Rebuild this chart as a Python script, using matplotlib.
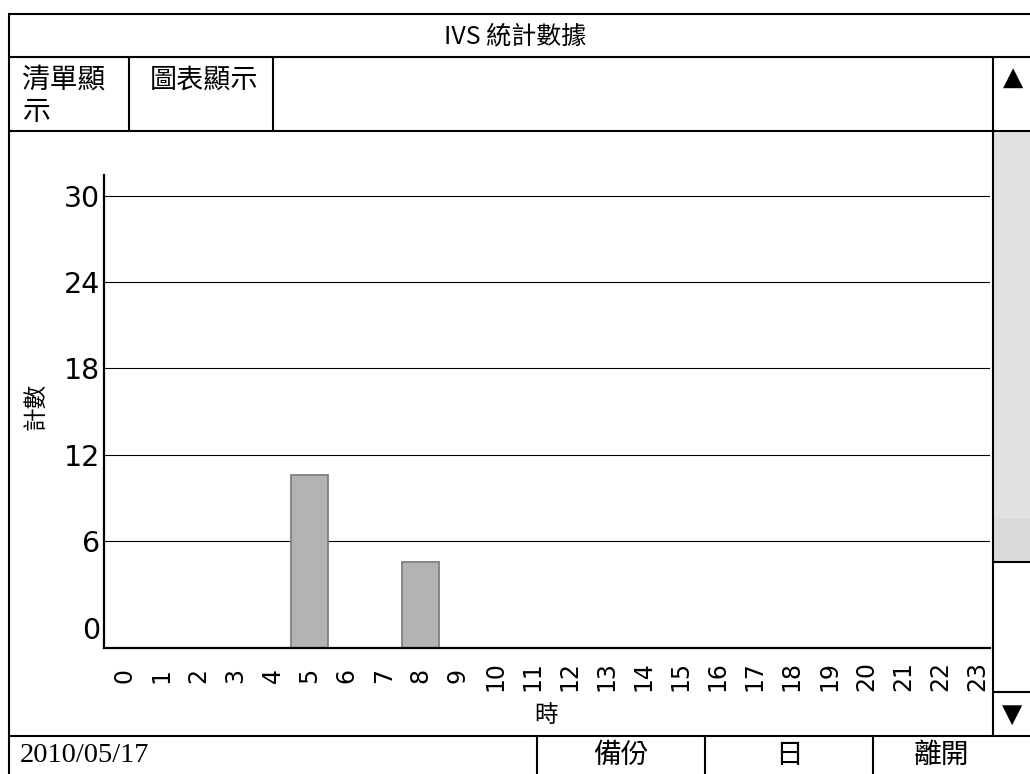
import matplotlib
matplotlib.use("Agg")
import matplotlib.pyplot as plt
from matplotlib.lines import Line2D
from matplotlib.patches import Rectangle

# ---------------- data ----------------
hours = [str(h) for h in range(24)]
counts = [0, 0, 0, 0, 0, 12, 0, 0, 6, 0, 0, 0, 0, 0, 0, 0, 0, 0, 0, 0, 0, 0, 0, 0]
y_ticks = [0, 6, 12, 18, 24, 30]
title_text = "IVS 統計數據"
tab_labels = ["清單顯\n示", "圖表顯示"]
date_text = "2010/05/17"
footer_buttons = ["備份", "日", "離開"]
x_label = "時"
y_label = "計數"

# ---------------- layout ----------------
W, H = 1030, 774
plt.rcParams['font.family'] = ['Noto Sans CJK TC', 'DejaVu Sans']
fig = plt.figure(figsize=(W / 100, H / 100), dpi=100)
fig.patch.set_facecolor('white')


def fx(px):
    return px / W


def fy(py):
    return 1 - py / H


def hline(y, x0, x1, lw=1.5):
    fig.add_artist(Line2D([fx(x0), fx(x1)], [fy(y), fy(y)], color='black', lw=lw,
                          transform=fig.transFigure, solid_capstyle='butt'))


def vline(x, y0, y1, lw=1.5):
    fig.add_artist(Line2D([fx(x), fx(x)], [fy(y0), fy(y1)], color='black', lw=lw,
                          transform=fig.transFigure, solid_capstyle='butt'))


def rect(x0, y0, x1, y1, color):
    fig.add_artist(Rectangle((fx(x0), fy(y1)), fx(x1) - fx(x0), fy(y0) - fy(y1),
                             transform=fig.transFigure, facecolor=color, edgecolor='none'))


# scroll bar thumb
rect(994, 132, 1030, 519, '#e1e1e1')
rect(994, 519, 1030, 561, '#d9d9d9')

# frame lines
hline(14, 8, 1030)
vline(9, 14, 774)
hline(57, 8, 1030)
hline(131, 8, 1030)
vline(129, 57, 131)
vline(273, 57, 131)
vline(993, 57, 736)
hline(562, 993, 1030)
hline(692, 993, 1030)
hline(736, 8, 1030)
for xd in (537, 705, 873):
    vline(xd, 736, 774)

# texts of UI
fig.text(fx(515), fy(36), title_text, ha='center', va='center', fontsize=18)
fig.text(fx(22), fy(96), tab_labels[0], ha='left', va='center', fontsize=20,
         linespacing=1.12, multialignment='left')
fig.text(fx(150), fy(80), tab_labels[1], ha='left', va='center', fontsize=19.5)
fig.text(fx(1013), fy(78), "▲", ha='center', va='center', fontsize=19, family='DejaVu Sans')
fig.text(fx(1012), fy(715), "▼", ha='center', va='center', fontsize=19, family='DejaVu Sans')
fig.text(fx(20), fy(755), date_text, ha='left', va='center', fontsize=20.5,
         family='Liberation Serif')
for label, cx in zip(footer_buttons, (621, 789, 941)):
    fig.text(fx(cx), fy(755), label, ha='center', va='center', fontsize=20)

# ---------------- chart ----------------
ax_left, ax_right, ax_top, ax_bottom = 104, 990, 175, 648
ax = fig.add_axes([fx(ax_left), fy(ax_bottom), fx(ax_right) - fx(ax_left),
                   fy(ax_top) - fy(ax_bottom)])
y_min, y_max = -1.42, 31.43
x_min, x_max = -0.54, 23.34
ax.set_ylim(y_min, y_max)
ax.set_xlim(x_min, x_max)

xs = list(range(len(hours)))
bx = [x for x, c in zip(xs, counts) if c > 0]
bh = [c for c in counts if c > 0]
ax.bar(bx, bh, bottom=y_min, width=1.0, color='#b3b3b3', edgecolor='#808080',
       linewidth=1.3, zorder=3)

ax.set_yticks(y_ticks)
ax.set_yticklabels([str(t) for t in y_ticks], fontsize=20.5, family='DejaVu Sans')
ax.set_xticks(xs)
ax.set_xticklabels(hours, rotation=90, fontsize=17, family='DejaVu Sans', va='center')
ax.tick_params(axis='x', length=0, pad=20)
ax.tick_params(axis='y', length=0, pad=3)
# horizontal grid lines at the non-zero ticks
ax.hlines([t for t in y_ticks if t > 0], x_min, x_max, colors='black',
          linewidth=0.8, zorder=1)
for s in ('top', 'right'):
    ax.spines[s].set_visible(False)
for s in ('left', 'bottom'):
    ax.spines[s].set_linewidth(1.6)
    ax.spines[s].set_zorder(4)

ax.set_xlabel(x_label, fontsize=17)
ax.set_ylabel(y_label, fontsize=17)
ax.xaxis.label.set_va('center')
ax.yaxis.label.set_va('center')
ax.xaxis.set_label_coords((546 - ax_left) / (ax_right - ax_left),
                          -(715 - ax_bottom) / (ax_bottom - ax_top))
ax.yaxis.set_label_coords(-(ax_left - 36) / (ax_right - ax_left),
                          (ax_bottom - 406) / (ax_bottom - ax_top))

fig.savefig('out.png', dpi=100, facecolor='white')
